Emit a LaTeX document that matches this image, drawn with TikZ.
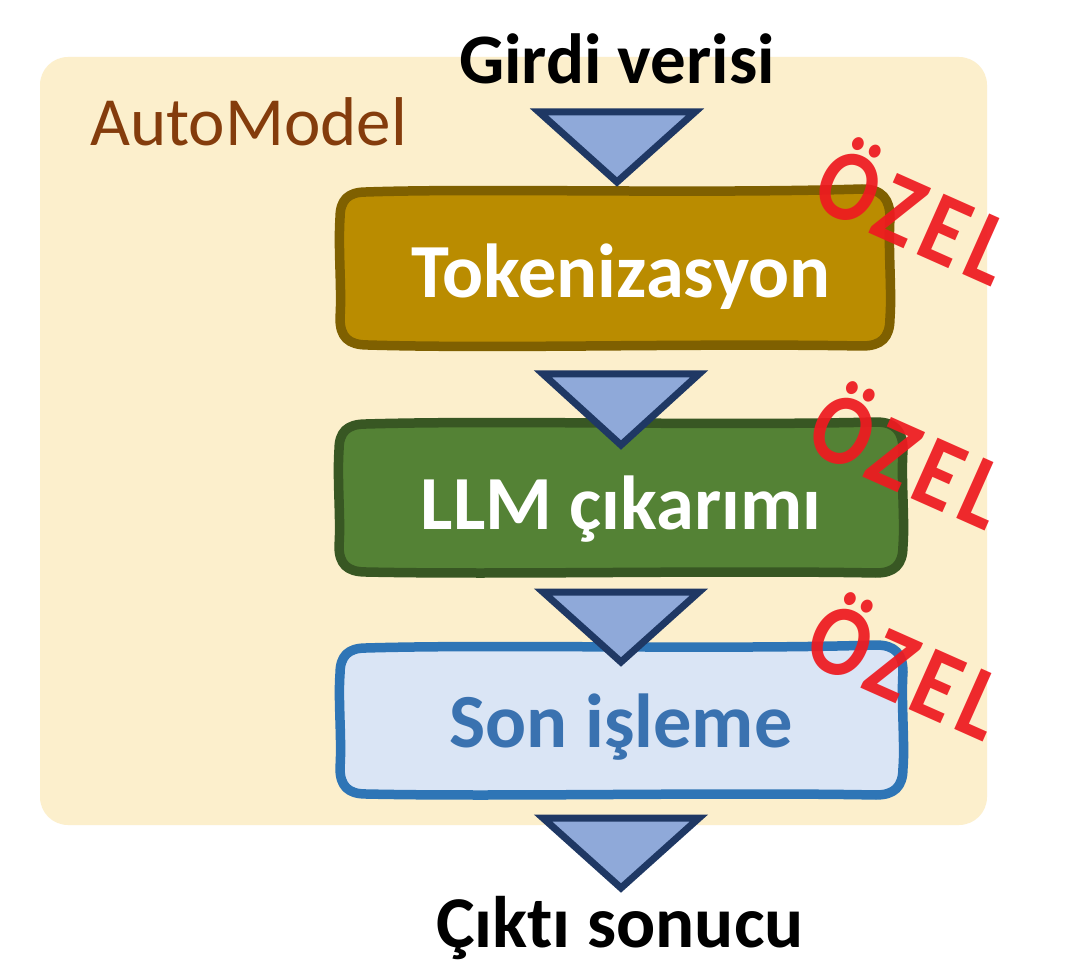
\documentclass[tikz,border=0pt]{standalone}
\usepackage{fontspec}
\setmainfont[Ligatures=NoCommon]{Carlito}
\newfontfamily\stampfont[LetterSpace=8]{Carlito}
\definecolor{panelc}{HTML}{FCEFCC}
\definecolor{triF}{HTML}{8FA9D9}
\definecolor{triD}{HTML}{1F3864}
\definecolor{tokF}{HTML}{BA8C00}
\definecolor{tokD}{HTML}{7F6000}
\definecolor{llmF}{HTML}{548235}
\definecolor{llmD}{HTML}{385723}
\definecolor{sonF}{HTML}{DAE5F5}
\definecolor{sonD}{HTML}{2E75B6}
\definecolor{sonT}{HTML}{3A72B0}
\definecolor{autoT}{HTML}{843C0C}
\definecolor{stamp}{HTML}{EE1A20}
\tikzset{
 px/.style={x=1pt,y=-1pt},
 flow/.style={line width=9.5pt,line join=round},
 arrowtri/.style={fill=triF,draw=triD,line width=7pt,miter limit=10},
 boxtext/.style={font=\fontsize{76.5}{76}\selectfont\bfseries,anchor=base},
 endtext/.style={font=\fontsize{71}{71}\selectfont\bfseries,text=black,anchor=base},
 stamptext/.style={font=\fontsize{102}{102}\selectfont\stampfont\bfseries,text=stamp,rotate=-24,xscale=.86,opacity=.93},
}
\begin{document}
\begin{tikzpicture}[px]
\useasboundingbox (0,0) rectangle (1088,976);
\fill[white] (0,0) rectangle (1088,976);
\fill[panelc,rounded corners=28pt] (40,57) rectangle (987,825);
\node[font=\fontsize{69}{69}\selectfont,text=autoT,anchor=base west,inner sep=0pt] (automodel) at (90,146) {AutoModel};
\node[endtext] (input) at (617,84) {Girdi verisi};
\draw[flow,draw=tokD,fill=tokF] (366,192) .. controls (480,188) and (700,194) .. (862,189)
  .. controls (882,189) and (890,199) .. (890,218)
  .. controls (888,250) and (892,290) .. (890,318)
  .. controls (890,338) and (881,346) .. (862,346)
  .. controls (700,343) and (500,349) .. (368,345)
  .. controls (348,345) and (340,337) .. (340,318)
  .. controls (342,290) and (338,250) .. (340,218)
  .. controls (340,200) and (348,192) .. (366,192) -- cycle;
\node[boxtext,text=white] (tok) at (621,298) {Tokenizasyon};
\draw[flow,draw=llmD,fill=llmF] (366,424) .. controls (500,420) and (720,426) .. (876,422)
  .. controls (895,422) and (903,431) .. (903,450)
  .. controls (901,480) and (905,520) .. (903,546)
  .. controls (903,565) and (894,573) .. (876,573)
  .. controls (720,570) and (500,575) .. (366,572)
  .. controls (347,572) and (339,564) .. (339,546)
  .. controls (341,520) and (337,480) .. (339,450)
  .. controls (339,432) and (347,424) .. (366,424) -- cycle;
\node[boxtext,text=white] (llm) at (621,529) {LLM çıkarımı};
\draw[flow,draw=sonD,fill=sonF] (366,648) .. controls (500,644) and (720,650) .. (876,645)
  .. controls (895,645) and (903,654) .. (903,672)
  .. controls (901,700) and (905,745) .. (903,768)
  .. controls (903,787) and (894,795) .. (876,795)
  .. controls (720,792) and (500,797) .. (366,794)
  .. controls (348,794) and (340,786) .. (340,768)
  .. controls (342,740) and (338,700) .. (340,674)
  .. controls (340,656) and (348,648) .. (366,648) -- cycle;
\node[boxtext,text=sonT] (son) at (621,747) {Son işleme};
\draw[arrowtri] (539,112) -- (695,112) -- (617,182) -- cycle;
\draw[arrowtri] (543,374) -- (699,374) -- (621,445) -- cycle;
\draw[arrowtri] (543,592) -- (699,592) -- (621,662) -- cycle;
\draw[arrowtri] (543,818) -- (699,818) -- (621,888) -- cycle;
\node[endtext,font=\fontsize{73}{73}\selectfont\bfseries] (output) at (620,947) {Çıktı sonucu};
\node[stamptext] (s1) at (917,209) {ÖZEL};
\node[stamptext] (s2) at (911,453) {ÖZEL};
\node[stamptext] (s3) at (909,664) {ÖZEL};
\end{tikzpicture}
\end{document}
